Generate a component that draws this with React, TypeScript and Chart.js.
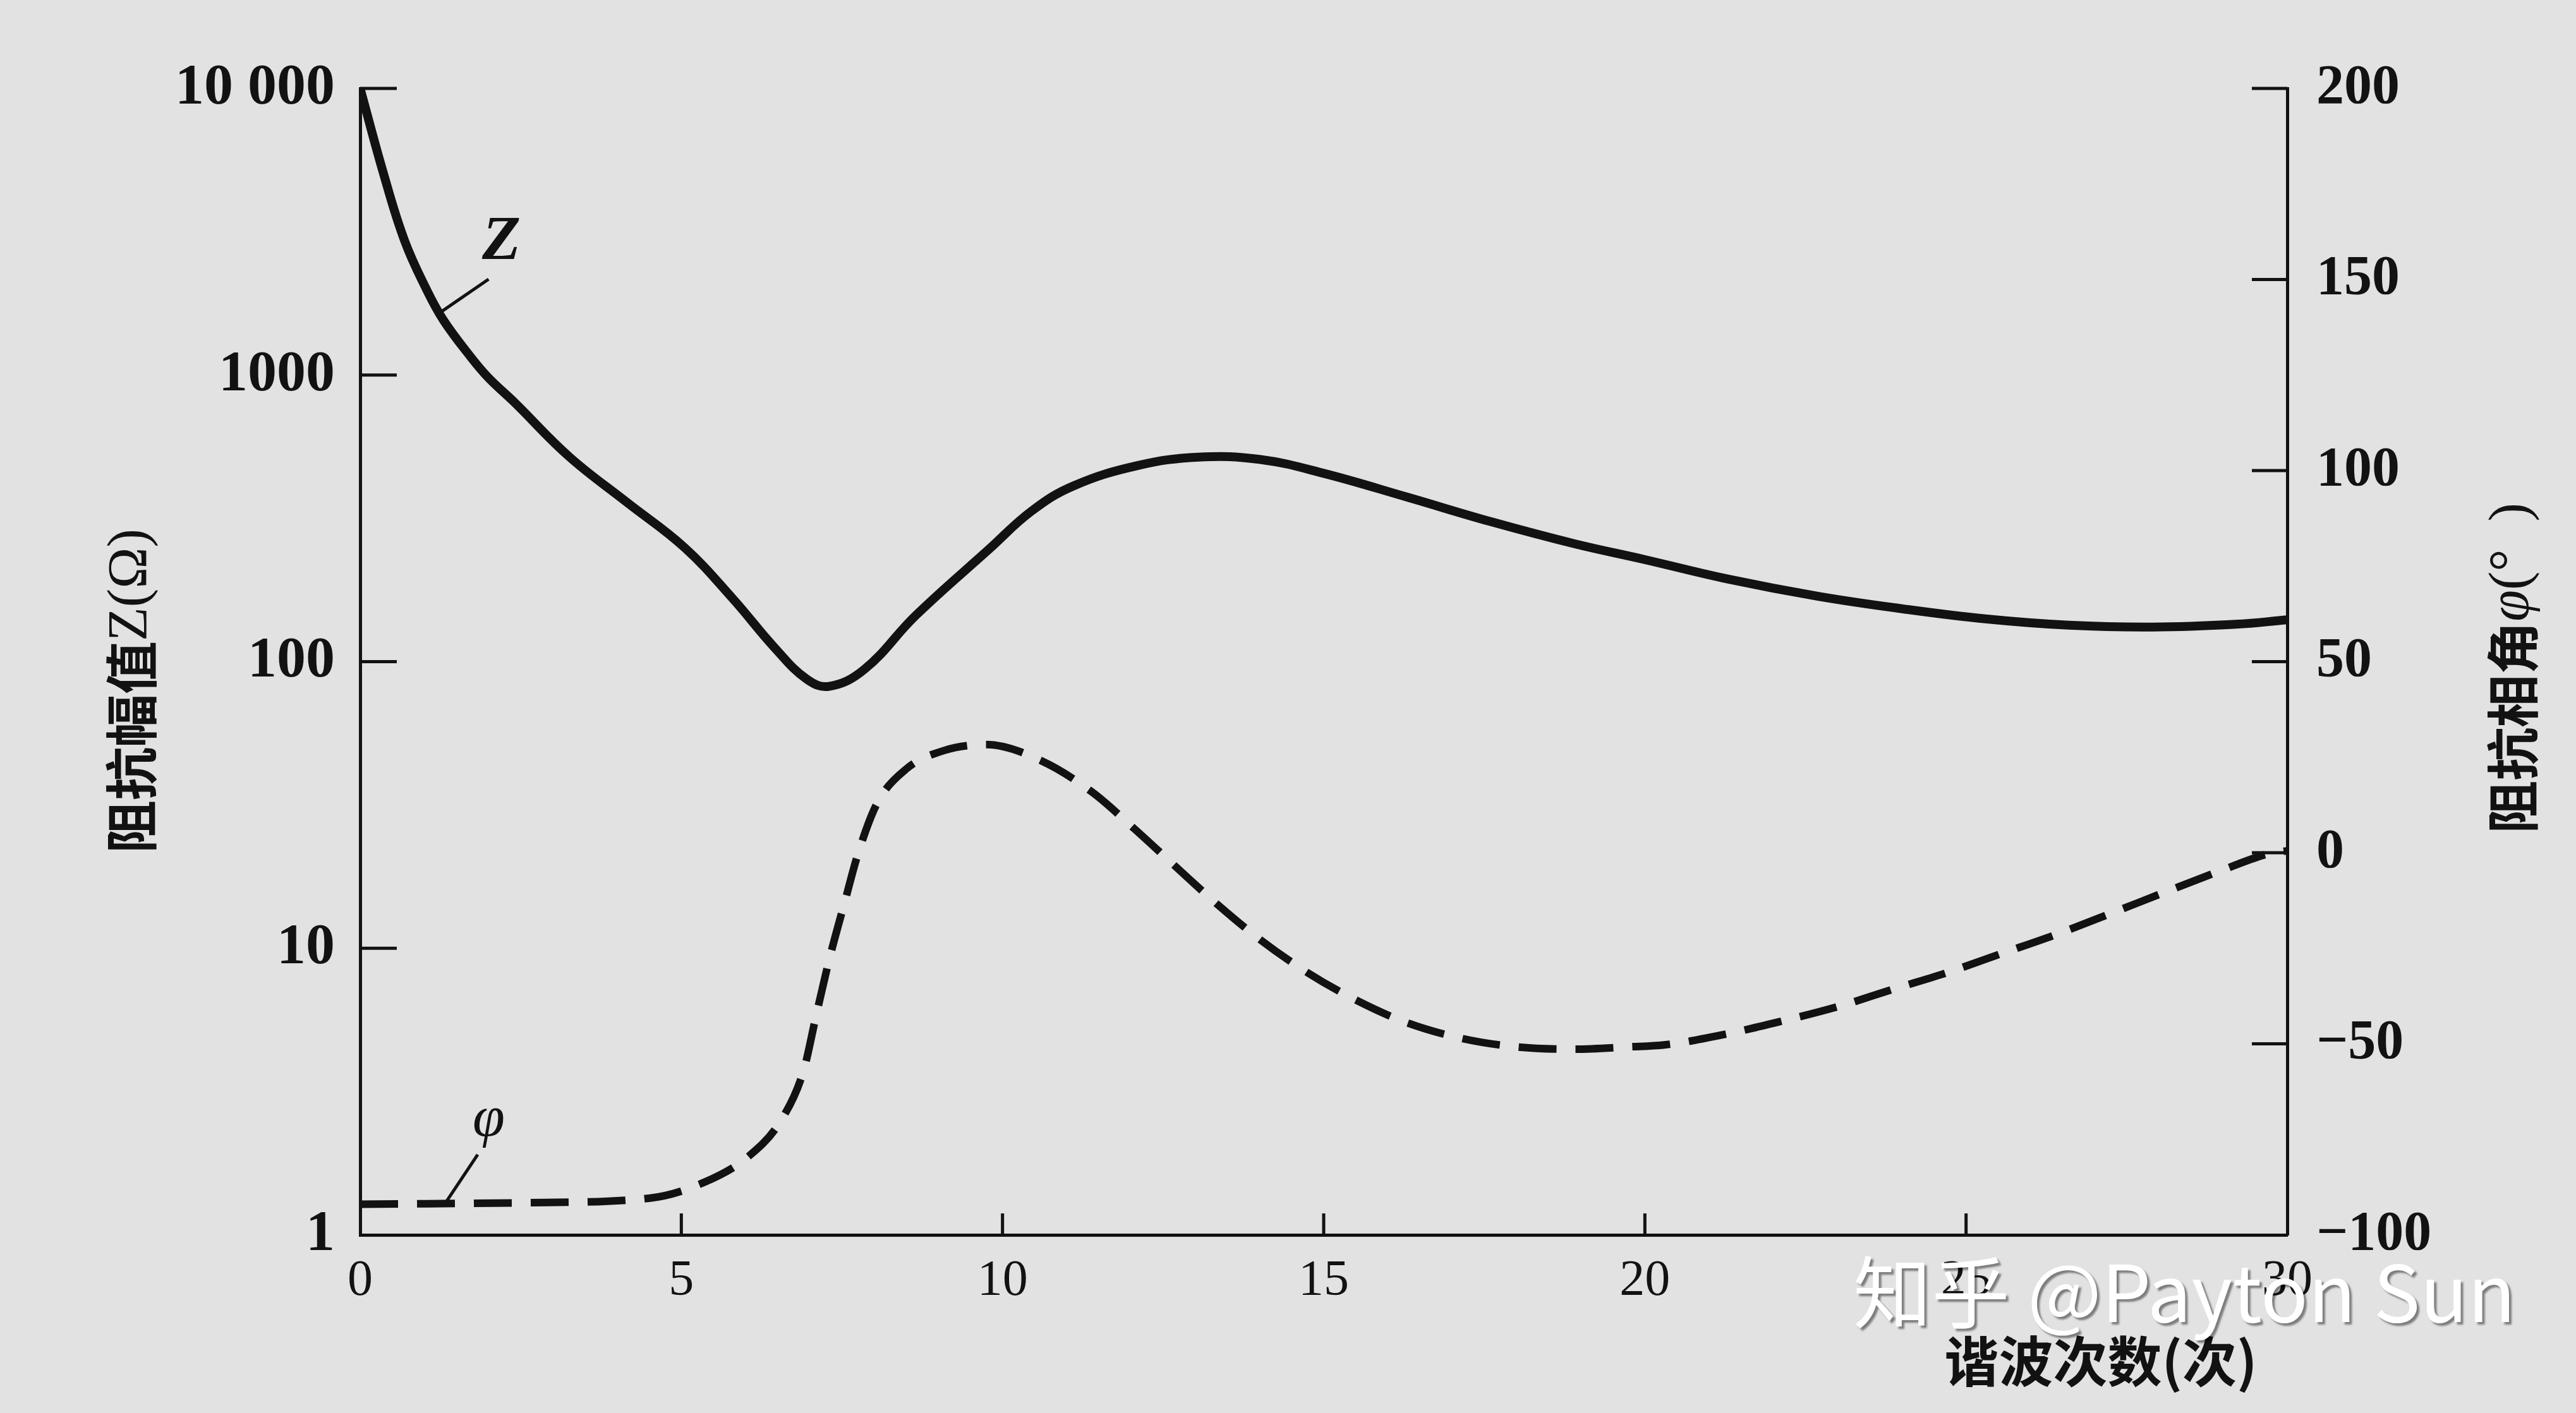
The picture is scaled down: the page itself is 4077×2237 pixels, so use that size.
import React, { useEffect, useRef } from 'react';
import { Chart, registerables } from 'chart.js';

Chart.register(...registerables);

// ---- data ----
const zHarmonics = [0, 0.36, 0.69, 1.03, 1.3, 1.73, 2.0, 2.4, 3.25, 4.15, 5.05, 5.8, 6.45, 6.95, 7.3, 7.85, 8.65, 9.8, 10.45, 11.1, 12.1, 13.05, 14.0, 15.0, 16.3, 17.6, 18.9, 20.0, 21.3, 22.7, 24.0, 25.3, 26.6, 27.9, 29.2, 30];
const zValues = [10000, 5080, 2950, 1995, 1550, 1150, 977, 804, 520, 360, 250, 166, 112, 87, 82, 94, 145, 248, 335, 410, 483, 517, 508, 454, 375, 308, 258, 227, 194, 169, 153, 141, 134, 132, 135, 140];

const phiHarmonics = [0, 2.5, 4.5, 5.35, 6.05, 6.55, 6.9, 7.1, 7.3, 7.55, 7.75, 8.05, 8.5, 9.1, 9.75, 10.6, 11.4, 12.05, 12.7, 13.35, 14.0, 14.75, 15.45, 16.25, 17.15, 18.0, 18.9, 19.75, 20.3, 21.25, 22.1, 23.0, 23.85, 24.7, 25.55, 26.4, 27.25, 28.1, 28.95, 29.7, 30];
const phiValues = [-92, -91.6, -90.4, -86.3, -79.4, -70.1, -57.2, -42.5, -28.1, -12.5, -0.3, 13, 21.9, 26.8, 28.3, 24.1, 15.8, 6.3, -3.7, -13.6, -22.6, -31.4, -38.1, -44.2, -48.6, -50.8, -51.4, -50.8, -50.3, -47.5, -44.2, -40.3, -35.8, -31.4, -26.4, -21.4, -15.9, -10.3, -4.8, -0.3, 0.5];

const xTickValues = [0, 5, 10, 15, 20, 25, 30];
const zTickValues = [1, 10, 100, 1000, 10000];
const zTickLabels = ['1', '10', '100', '1000', '10 000'];
const phiTickValues = [-100, -50, 0, 50, 100, 150, 200];
const phiTickLabels = ['\u2212100', '\u221250', '0', '50', '100', '150', '200'];

const leftTitleParts = ['阻抗幅值', 'Z(Ω)'];
const rightTitleParts = ['阻抗相角', 'φ', '(°  )'];
const xTitle = '谐波次数(次)';
const watermarkText = '知乎 @Payton Sun';

// curve labels with leader lines, in data units
const zLabel = { text: 'Z', x: 2.2, y: 2900, fromX: 2.0, fromY: 2160, toX: 1.24, toY: 1650 };
const phiLabel = { text: 'φ', x: 2.0, y: -70, fromX: 1.83, fromY: -79, toX: 1.33, toY: -91.6 };

const INK = '#121212';
const BG = '#e2e2e2';
const W = 4077;
const H = 2237;
const AREA = { left: 570, right: 3620, top: 140, bottom: 1955 };

const CJK_FONT = 'bold 84px "Noto Sans CJK SC", "Noto Sans", sans-serif';
const SERIF_TITLE = '88px "Liberation Serif", "DejaVu Serif", serif';
const SERIF_ITALIC_TITLE = 'italic 90px "Liberation Serif", "DejaVu Serif", serif';

function drawRotatedParts(ctx: any, cx: number, cy: number, parts: { text: string; font: string }[]) {
  ctx.save();
  ctx.translate(cx, cy);
  ctx.rotate(-Math.PI / 2);
  ctx.textAlign = 'left';
  ctx.textBaseline = 'middle';
  let total = 0;
  const widths = parts.map((p) => {
    ctx.font = p.font;
    const w = ctx.measureText(p.text).width;
    total += w;
    return w;
  });
  let x = -total / 2;
  parts.forEach((p, i) => {
    ctx.font = p.font;
    ctx.fillText(p.text, x, 0);
    x += widths[i];
  });
  ctx.restore();
}

const decorPlugin = {
  id: 'decor',
  afterDraw(chart: any) {
    const { ctx, chartArea, scales } = chart;
    const xs = scales.x, ys = scales.y, ys1 = scales.y1;
    ctx.save();
    ctx.strokeStyle = INK;
    ctx.fillStyle = INK;
    ctx.lineCap = 'butt';
    ctx.lineWidth = 5;
    const seg = (x1: number, y1: number, x2: number, y2: number) => {
      ctx.beginPath();
      ctx.moveTo(x1, y1);
      ctx.lineTo(x2, y2);
      ctx.stroke();
    };
    // inward tick marks
    zTickValues.forEach((v) => {
      if (v === 1) return;
      const py = ys.getPixelForValue(v);
      seg(chartArea.left, py, chartArea.left + 58, py);
    });
    phiTickValues.forEach((v) => {
      if (v === -100) return;
      const py = ys1.getPixelForValue(v);
      seg(chartArea.right - 56, py, chartArea.right, py);
    });
    xTickValues.forEach((v) => {
      if (v === 0 || v === 30) return;
      const px = xs.getPixelForValue(v);
      seg(px, chartArea.bottom, px, chartArea.bottom - 34);
    });

    // leader lines + curve labels
    seg(xs.getPixelForValue(zLabel.fromX), ys.getPixelForValue(zLabel.fromY), xs.getPixelForValue(zLabel.toX), ys.getPixelForValue(zLabel.toY));
    seg(xs.getPixelForValue(phiLabel.fromX), ys1.getPixelForValue(phiLabel.fromY), xs.getPixelForValue(phiLabel.toX), ys1.getPixelForValue(phiLabel.toY));
    ctx.textAlign = 'center';
    ctx.textBaseline = 'middle';
    ctx.font = 'italic bold 100px "Liberation Serif", "DejaVu Serif", serif';
    ctx.fillText(zLabel.text, xs.getPixelForValue(zLabel.x), ys.getPixelForValue(zLabel.y));
    ctx.font = 'italic 92px "Liberation Serif", "DejaVu Serif", serif';
    ctx.fillText(phiLabel.text, xs.getPixelForValue(phiLabel.x), ys1.getPixelForValue(phiLabel.y));

    // axis titles
    drawRotatedParts(ctx, 208, 1094, [
      { text: leftTitleParts[0], font: CJK_FONT },
      { text: leftTitleParts[1], font: SERIF_TITLE },
    ]);
    drawRotatedParts(ctx, 3977, 1058, [
      { text: rightTitleParts[0], font: CJK_FONT },
      { text: rightTitleParts[1], font: SERIF_ITALIC_TITLE },
      { text: rightTitleParts[2], font: SERIF_TITLE },
    ]);
    ctx.textAlign = 'center';
    ctx.textBaseline = 'middle';
    ctx.font = 'bold 86px "Noto Sans CJK SC", "Noto Sans", sans-serif';
    ctx.fillText(xTitle, 3325, 2155);

    // watermark
    ctx.font = '124px "Noto Sans CJK SC", "Noto Sans", sans-serif';
    ctx.textAlign = 'left';
    ctx.textBaseline = 'alphabetic';
    ctx.shadowColor = 'rgba(0,0,0,0.45)';
    ctx.shadowOffsetX = 4;
    ctx.shadowOffsetY = 4;
    ctx.shadowBlur = 3;
    ctx.fillStyle = '#ffffff';
    ctx.fillText(watermarkText, 2933, 2093);
    ctx.restore();
  },
};

export default function App() {
  const canvasRef = useRef<HTMLCanvasElement | null>(null);

  useEffect(() => {
    document.body.style.margin = '0';
    document.body.style.background = BG;
    const canvas = canvasRef.current;
    if (!canvas) return;
    const chart = new Chart(canvas, {
      type: 'line',
      data: {
        datasets: [
          {
            label: 'Z',
            data: zHarmonics.map((h, i) => ({ x: h, y: zValues[i] })),
            yAxisID: 'y',
            borderColor: INK,
            borderWidth: 14,
            pointRadius: 0,
            fill: false,
            tension: 0.4,
            borderCapStyle: 'round',
            borderJoinStyle: 'round',
          },
          {
            label: 'φ',
            data: phiHarmonics.map((h, i) => ({ x: h, y: phiValues[i] })),
            yAxisID: 'y1',
            borderColor: INK,
            borderWidth: 12,
            borderDash: [60, 30],
            pointRadius: 0,
            fill: false,
            cubicInterpolationMode: 'monotone',
            borderCapStyle: 'butt',
          },
        ],
      },
      options: {
        animation: false,
        responsive: false,
        devicePixelRatio: 1,
        layout: { padding: { top: AREA.top, left: 0, right: 0, bottom: 0 } },
        plugins: {
          legend: { display: false },
          tooltip: { enabled: false },
          title: { display: false },
        },
        scales: {
          x: {
            type: 'linear',
            position: 'bottom',
            min: 0,
            max: 30,
            afterBuildTicks: (s: any) => {
              s.ticks = xTickValues.map((v) => ({ value: v }));
            },
            afterFit: (s: any) => {
              s.height = H - AREA.bottom;
            },
            grid: { display: false, drawTicks: false, tickLength: 0 },
            border: { display: true, width: 5, color: INK },
            ticks: {
              color: INK,
              padding: 26,
              maxRotation: 0,
              autoSkip: false,
              font: { family: '"Liberation Serif", "DejaVu Serif", serif', size: 80 },
              callback: (v: any) => String(v),
            },
          },
          y: {
            type: 'logarithmic',
            position: 'left',
            min: 1,
            max: 10000,
            afterBuildTicks: (s: any) => {
              s.ticks = zTickValues.map((v) => ({ value: v }));
            },
            afterFit: (s: any) => {
              s.width = AREA.left;
            },
            grid: { display: false, drawTicks: false, tickLength: 0 },
            border: { display: true, width: 5, color: INK },
            ticks: {
              color: INK,
              padding: 40,
              autoSkip: false,
              font: { family: '"Liberation Serif", "DejaVu Serif", serif', size: 92, weight: 'bold' },
              callback: (v: any) => {
                const i = zTickValues.indexOf(Number(v));
                return i >= 0 ? zTickLabels[i] : '';
              },
            },
          },
          y1: {
            type: 'linear',
            position: 'right',
            min: -100,
            max: 200,
            afterBuildTicks: (s: any) => {
              s.ticks = phiTickValues.map((v) => ({ value: v }));
            },
            afterFit: (s: any) => {
              s.width = W - AREA.right;
            },
            grid: { display: false, drawTicks: false, tickLength: 0 },
            border: { display: true, width: 5, color: INK },
            ticks: {
              color: INK,
              padding: 46,
              autoSkip: false,
              font: { family: '"Liberation Serif", "DejaVu Serif", serif', size: 88, weight: 'bold' },
              callback: (v: any) => {
                const i = phiTickValues.indexOf(Number(v));
                return i >= 0 ? phiTickLabels[i] : '';
              },
            },
          },
        },
      } as any,
      plugins: [decorPlugin],
    });
    return () => chart.destroy();
  }, []);

  return (
    <div style={{ position: 'fixed', left: 0, top: 0, width: W, height: H, background: BG }}>
      <canvas ref={canvasRef} width={W} height={H} style={{ display: 'block', width: W, height: H }} />
    </div>
  );
}
